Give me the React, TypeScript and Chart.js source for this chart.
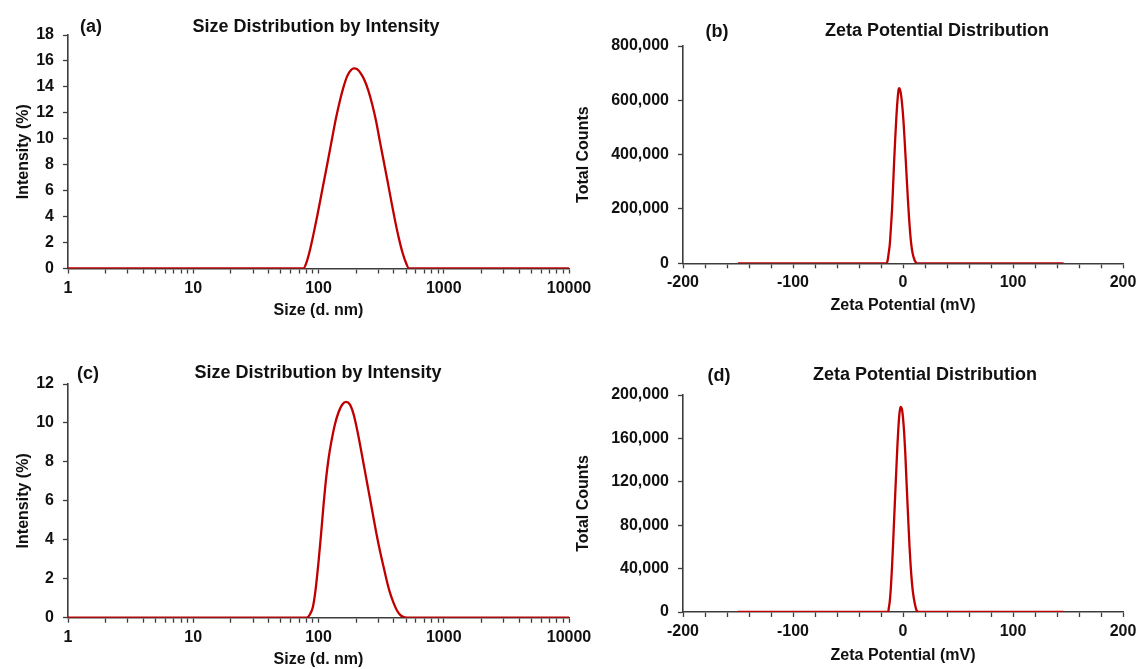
import React, { useEffect, useRef } from 'react';
import { Chart, registerables } from 'chart.js';

Chart.register(...registerables);

const FONT = '"Liberation Sans", Arial, Helvetica, sans-serif';
const TEXT = '#111111';
const AXIS = '#3c3c3c';
const LINE = '#C00000';

// (a) Size distribution by intensity
const sizeA = [
  1, 75.7, 79.4, 85.1, 91.2, 97.7, 104.7, 112.2, 120.2, 128.8, 138.0, 147.9, 158.5, 169.8, 182.0, 191.9,
  204.2, 218.8, 234.4, 251.2, 269.2, 288.4, 309.0, 331.1, 354.8, 380.2, 407.4, 436.5, 467.7, 501.2, 528.4, 10000,
];
const intensityA = [
  0, 0, 0.35, 1.35, 2.65, 4.05, 5.55, 7.05, 8.55, 10.1, 11.6, 12.9, 14.0, 14.85, 15.3, 15.42,
  15.35, 15.0, 14.45, 13.65, 12.6, 11.35, 9.8, 8.3, 6.8, 5.25, 3.75, 2.4, 1.25, 0.4, 0, 0,
];

// (b) Zeta potential distribution
const zetaB = [
  -150, -14.8, -14, -13, -12, -11, -10, -9, -8, -7, -6, -5, -4, -3.4,
  -2.5, -1.5, -0.5, 0.5, 1.5, 2.5, 3.5, 4.5, 5.5, 6.5, 7.5, 8.5, 9.5, 10.5, 11.5, 12.5, 146,
];
const countsB = [
  0, 0, 10000, 38000, 70000, 130000, 195000, 285000, 380000, 465000, 540000, 600000, 640000, 645000,
  636000, 612000, 572000, 520000, 452000, 380000, 305000, 232000, 167000, 112000, 71000, 42000, 24000, 12000, 4500, 0, 0,
];

// (c) Size distribution by intensity
const sizeC = [
  1, 80.4, 85.1, 90.2, 94.4, 100, 104.7, 109.6, 114.8, 120.2, 125.9, 134.9, 144.5, 154.9, 166.0,
  177.8, 190.5, 204.2, 218.8, 234.4, 251.2, 269.2, 288.4, 309.0, 331.1, 350.8, 371.5, 398.1, 426.6, 457.1, 505.8, 10000,
];
const intensityC = [
  0, 0, 0.15, 0.55, 1.35, 2.85, 4.25, 5.75, 7.1, 8.15, 8.95, 9.9, 10.55, 10.95, 11.08,
  10.95, 10.45, 9.6, 8.6, 7.55, 6.5, 5.45, 4.4, 3.45, 2.6, 1.9, 1.3, 0.75, 0.33, 0.1, 0, 0,
];

// (d) Zeta potential distribution
const zetaD = [
  -150, -13.4, -13, -12, -11, -10, -9, -8, -7, -6, -5, -4, -3, -2.1,
  -1, 0, 1, 2, 3, 4, 5, 6, 7, 8, 9, 10, 11, 12, 13, 14.8, 146,
];
const countsD = [
  0, 0, 3000, 10000, 23000, 41000, 63000, 87000, 110000, 133000, 155000, 173000, 185000, 189000,
  187000, 179000, 166000, 148000, 125000, 102000, 80000, 59000, 42000, 28500, 18500, 11700, 6500, 2500, 700, 0, 0,
];

// Log axis ticks (1..9 per decade) and the ones that carry a label
const sizeTicks = [
  1, 2, 3, 4, 5, 6, 7, 8, 9,
  10, 20, 30, 40, 50, 60, 70, 80, 90,
  100, 200, 300, 400, 500, 600, 700, 800, 900,
  1000, 2000, 3000, 4000, 5000, 6000, 7000, 8000, 9000,
  10000,
];
const sizeTickLabels = [1, 10, 100, 1000, 10000];
const zetaTickLabels = [-200, -100, 0, 100, 200];

type Area = { left: number; top: number; right: number; bottom: number };

type PanelSpec = {
  x: number;
  y: number;
  w: number;
  h: number;
  area: Area;
  kind: 'size' | 'zeta';
  xs: number[];
  ys: number[];
  yMax: number;
  yStep: number;
  yTitle: string;
  xTitle: string;
  yTitlePad: number;
  xTitlePad: number;
  tag: string;
  tagPos: [number, number];
  title: string;
  titlePos: [number, number];
};

// Draws the panel letter and the panel heading above the plot area
const panelText = {
  id: 'panelText',
  afterDraw(chart: any, _args: any, opts: any) {
    const ctx = chart.ctx;
    ctx.save();
    ctx.font = `bold 18px ${FONT}`;
    ctx.fillStyle = TEXT;
    ctx.textAlign = 'center';
    ctx.textBaseline = 'middle';
    ctx.fillText(opts.tag, opts.tagPos[0], opts.tagPos[1]);
    ctx.fillText(opts.title, opts.titlePos[0], opts.titlePos[1]);
    ctx.restore();
  },
};

function buildConfig(p: PanelSpec): any {
  const tickFont = { family: FONT, size: 16, weight: 'bold' as const };
  const titleFont = { family: FONT, size: 16, weight: 'bold' as const };
  const isSize = p.kind === 'size';

  const xScale: any = {
    type: isSize ? 'logarithmic' : 'linear',
    position: 'bottom',
    min: isSize ? 1 : -200,
    max: isSize ? 10000 : 200,
    afterFit(scale: any) {
      scale.height = p.h - p.area.bottom;
      scale.paddingLeft = 0;
      scale.paddingRight = 0;
    },
    grid: {
      display: true,
      drawOnChartArea: false,
      drawTicks: true,
      tickLength: 5,
      tickColor: AXIS,
      tickWidth: 1.3,
    },
    border: { display: true, color: AXIS, width: 1.6 },
    ticks: {
      autoSkip: false,
      maxRotation: 0,
      minRotation: 0,
      padding: 5,
      color: TEXT,
      font: tickFont,
      callback: (value: any) => {
        const v = Number(value);
        if (isSize) return sizeTickLabels.includes(v) ? String(v) : '';
        return zetaTickLabels.includes(v) ? String(v) : '';
      },
    },
    title: {
      display: true,
      text: p.xTitle,
      color: TEXT,
      font: titleFont,
      padding: { top: 0, bottom: p.xTitlePad },
    },
  };
  if (isSize) {
    xScale.afterBuildTicks = (scale: any) => {
      scale.ticks = sizeTicks.map((v) => ({ value: v, major: sizeTickLabels.includes(v) }));
    };
  } else {
    xScale.ticks.stepSize = 20;
  }

  const yScale: any = {
    type: 'linear',
    position: 'left',
    min: 0,
    max: p.yMax,
    afterFit(scale: any) {
      scale.width = p.area.left;
      scale.paddingTop = 0;
      scale.paddingBottom = 0;
    },
    grid: {
      display: true,
      drawOnChartArea: false,
      drawTicks: true,
      tickLength: 5,
      tickColor: AXIS,
      tickWidth: 1.3,
    },
    border: { display: true, color: AXIS, width: 1.6 },
    ticks: {
      stepSize: p.yStep,
      padding: 9,
      color: TEXT,
      font: tickFont,
      callback: (value: any) => Number(value).toLocaleString('en-US'),
    },
    title: {
      display: true,
      text: p.yTitle,
      color: TEXT,
      font: titleFont,
      padding: { top: p.yTitlePad, bottom: 0 },
    },
  };

  return {
    type: 'line',
    data: {
      datasets: [
        {
          data: p.xs.map((x, i) => ({ x, y: p.ys[i] })),
          borderColor: LINE,
          borderWidth: 2.3,
          pointRadius: 0,
          fill: false,
          cubicInterpolationMode: 'monotone',
        },
      ],
    },
    options: {
      responsive: false,
      animation: false,
      devicePixelRatio: 1,
      layout: {
        padding: { left: 0, top: p.area.top, right: p.w - p.area.right, bottom: 0 },
      },
      plugins: {
        legend: { display: false },
        tooltip: { enabled: false },
        panelText: { tag: p.tag, tagPos: p.tagPos, title: p.title, titlePos: p.titlePos },
      },
      scales: { x: xScale, y: yScale },
    },
    plugins: [panelText],
  };
}

const panels: PanelSpec[] = [
  {
    x: 0, y: 0, w: 620, h: 335,
    area: { left: 68, top: 35, right: 569, bottom: 268.5 },
    kind: 'size', xs: sizeA, ys: intensityA, yMax: 18, yStep: 2,
    yTitle: 'Intensity (%)', xTitle: 'Size (d. nm)', yTitlePad: 14.4, xTitlePad: 14.4,
    tag: '(a)', tagPos: [91, 27.5], title: 'Size Distribution by Intensity', titlePos: [316, 27],
  },
  {
    x: 560, y: 0, w: 578, h: 335,
    area: { left: 123, top: 46, right: 563, bottom: 263.3 },
    kind: 'zeta', xs: zetaB, ys: countsB, yMax: 800000, yStep: 200000,
    yTitle: 'Total Counts', xTitle: 'Zeta Potential (mV)', yTitlePad: 14.4, xTitlePad: 19.4,
    tag: '(b)', tagPos: [157, 32], title: 'Zeta Potential Distribution', titlePos: [377, 31.5],
  },
  {
    x: 0, y: 330, w: 620, h: 339,
    area: { left: 68, top: 54, right: 569, bottom: 287.7 },
    kind: 'size', xs: sizeC, ys: intensityC, yMax: 12, yStep: 2,
    yTitle: 'Intensity (%)', xTitle: 'Size (d. nm)', yTitlePad: 14.4, xTitlePad: 0,
    tag: '(c)', tagPos: [88, 44.5], title: 'Size Distribution by Intensity', titlePos: [318, 43.5],
  },
  {
    x: 560, y: 330, w: 578, h: 339,
    area: { left: 123, top: 65, right: 563, bottom: 282 },
    kind: 'zeta', xs: zetaD, ys: countsD, yMax: 200000, yStep: 40000,
    yTitle: 'Total Counts', xTitle: 'Zeta Potential (mV)', yTitlePad: 14.4, xTitlePad: 3.4,
    tag: '(d)', tagPos: [159, 46], title: 'Zeta Potential Distribution', titlePos: [365, 45],
  },
];

function Panel({ spec }: { spec: PanelSpec }) {
  const ref = useRef<HTMLCanvasElement | null>(null);
  useEffect(() => {
    if (!ref.current) return;
    const chart = new Chart(ref.current, buildConfig(spec));
    return () => chart.destroy();
  }, [spec]);
  return (
    <canvas
      ref={ref}
      width={spec.w}
      height={spec.h}
      style={{ position: 'absolute', left: spec.x, top: spec.y, width: spec.w, height: spec.h }}
    />
  );
}

export default function App() {
  return (
    <div
      style={{
        position: 'absolute',
        left: 0,
        top: 0,
        width: 1138,
        height: 669,
        background: '#ffffff',
        overflow: 'hidden',
      }}
    >
      {panels.map((p, i) => (
        <Panel key={i} spec={p} />
      ))}
    </div>
  );
}
